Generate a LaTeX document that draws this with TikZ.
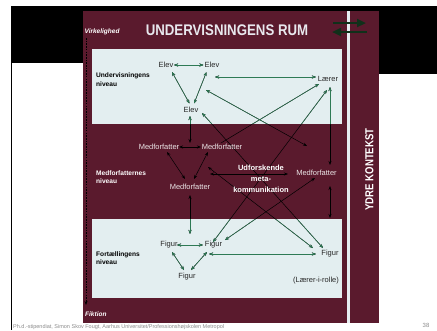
\documentclass[tikz,border=0pt]{standalone}
\usepackage{fontspec}
\usepackage{graphicx}
\setmainfont{Liberation Sans}
\newfontfamily\condfont[FakeStretch=0.86]{Liberation Sans}
\newfontfamily\condfontb[FakeStretch=0.83]{Liberation Sans}
\usetikzlibrary{arrows.meta}
\pgfdeclarelayer{bg}
\pgfdeclarelayer{lines}
\pgfsetlayers{bg,lines,main}
\definecolor{panelred}{HTML}{5A1A2D}
\definecolor{boxfill}{HTML}{E3EEF0}
\definecolor{stripecol}{HTML}{E6EDF1}
\definecolor{linegreen}{HTML}{2E7A55}
\definecolor{arrowgreen}{HTML}{10301A}
\definecolor{lighttext}{HTML}{ECE6E8}
\definecolor{titletext}{HTML}{E8E8EE}
\def\conncol{black}
\tikzset{
  lbl/.style={font=\fontsize{7.5}{9}\selectfont, inner sep=0pt},
  boxlbl/.style={lbl, text=black!85},
  midlbl/.style={lbl, text=lighttext},
  lvl/.style={font=\bfseries\fontsize{6.6}{8.6}\selectfont, align=left, anchor=west, inner sep=0pt},
  conn/.style={draw=\conncol, line width=0.5pt, >={Stealth[length=4pt,width=3pt]}, <->},
  connone/.style={draw=\conncol, line width=0.5pt, >={Stealth[length=4pt,width=3pt]}, ->},
  bigarrow/.style={draw=arrowgreen, line width=2.4pt, -{Triangle[length=9pt,width=8pt]}},
}
\newcommand{\drawconnectors}{%
  \draw[conn] (p1a) -- (p1b);
  \draw[conn] (p2a) -- (p2b);
  \draw[conn] (p3a) -- (p3b);
  \draw[conn] (p4a) -- (p4b);
  \draw[conn] (p5a) -- (p5b);
  \draw[conn] (p6a) -- (p6b);
  \draw[conn] (p7a) -- (p7b);
  \draw[conn] (p8a) -- (p8b);
  \draw[conn] (p9a) -- (p9b);
  \draw[conn] (p10a) -- (p10b);
  \draw[conn] (p11a) -- (p11b);
  \draw[conn] (p12a) -- (p12b);
  \draw[conn] (p13a) -- (p13b);
  \draw[conn] (p14a) -- (p14b);
  \draw[connone] (p15b) -- (p15a);
  \draw[conn] (p16a) -- (p16b);
  \draw[conn] (p17a) -- (p17b);
  \draw[conn] (p18a) -- (p18b);
  \draw[conn] (p19a) -- (p19b);
  \draw[conn] (p20a) -- (p20b);
  \draw[conn] (p21a) -- (p21b);
  \draw[conn] (p22a) -- (p22b);
}
\begin{document}
\begin{tikzpicture}[x=1pt,y=-1pt]
\useasboundingbox (0,0) rectangle (437,330);
% backgrounds
\begin{pgfonlayer}{bg}
\fill[white] (0,0) rectangle (437,330);
\fill[black] (11,6) rectangle (83,63);
\fill[black] (83,6) rectangle (437,74);
\fill[panelred] (83,11) rectangle (379,323);
\draw[black, line width=1.2pt] (11.6,60) -- (11.6,330);
\fill[stripecol] (347.3,11) rectangle (350,323);
\fill[boxfill] (92,49) rectangle (342,124);
\fill[boxfill] (92,219) rectangle (342,297.5);
\end{pgfonlayer}

% header
\node[font=\condfont\bfseries\fontsize{15.4}{16}\selectfont, text=titletext, inner sep=0pt] (title) at (227,30) {UNDERVISNINGENS RUM};
\node[font=\bfseries\itshape\fontsize{6.5}{7}\selectfont, text=white, anchor=west, inner sep=0pt] (virk) at (84.5,32) {Virkelighed};
\node[font=\bfseries\itshape\fontsize{6.5}{7}\selectfont, text=white, anchor=west, inner sep=0pt] (fikt) at (85,314) {Fiktion};
\node[font=\condfontb\bfseries\fontsize{11.6}{12}\selectfont, text=white, rotate=90, inner sep=0pt] (ydre) at (369.5,169.5) {YDRE KONTEKST};

\coordinate (ra) at (333,23); \coordinate (rb) at (366,23);
\coordinate (la) at (367,32); \coordinate (lb) at (332,32);
\draw[bigarrow] (ra) -- (rb);
\draw[bigarrow] (la) -- (lb);

% reality/fiction dashed line
\coordinate (dtop) at (86,38); \coordinate (dbot) at (86,305);
\draw[black, line width=0.7pt, dash pattern=on 1.6pt off 1.1pt, -{Stealth[length=4pt,width=3pt]}] (dtop) -- (dbot);

% level labels
\node[lvl, text=black] (lv1) at (96,79.5) {Undervisningens\\niveau};
\node[lvl, text=white] (lv2) at (96,177) {Medforfatternes\\niveau};
\node[lvl, text=black] (lv3) at (96,258) {Fortællingens\\niveau};

% nodes
\node[boxlbl] (elev1) at (166,65) {Elev};
\node[boxlbl] (elev2) at (212,65) {Elev};
\node[boxlbl] (laerer) at (328,78.5) {Lærer};
\node[boxlbl] (elev3) at (191,110) {Elev};
\node[midlbl] (medA) at (159,147) {Medforfatter};
\node[midlbl] (medB) at (222,147) {Medforfatter};
\node[midlbl] (medC) at (190,187) {Medforfatter};
\node[midlbl] (medD) at (316.5,173) {Medforfatter};
\node[font=\bfseries\fontsize{7.5}{11}\selectfont, text=white, align=center, inner sep=0pt] (meta) at (261,179) {Udforskende\\meta-\\kommunikation};
\node[boxlbl] (fig1) at (169,245) {Figur};
\node[boxlbl] (fig2) at (213.5,245) {Figur};
\node[boxlbl] (fig3) at (330,254) {Figur};
\node[boxlbl] (fig4) at (187,277) {Figur};
\node[boxlbl] (lir) at (316,281) {(Lærer-i-rolle)};

% connector end points
\coordinate (p1a) at (174,65);   \coordinate (p1b) at (203.5,65);
\coordinate (p2a) at (215,77);   \coordinate (p2b) at (316,77);
\coordinate (p3a) at (172,72);   \coordinate (p3b) at (189.5,103.5);
\coordinate (p4a) at (206.5,72); \coordinate (p4b) at (194,103.5);
\coordinate (p5a) at (190,116);  \coordinate (p5b) at (190,143);
\coordinate (p6a) at (179,147);  \coordinate (p6b) at (201,147);
\coordinate (p7a) at (167,152);  \coordinate (p7b) at (185,179);
\coordinate (p8a) at (208,152);  \coordinate (p8b) at (194,179);
\coordinate (p9a) at (190,195);  \coordinate (p9b) at (190,234);
\coordinate (p10a) at (210,174); \coordinate (p10b) at (288,174);
\coordinate (p11a) at (330,87);  \coordinate (p11b) at (330,165);
\coordinate (p12a) at (330,186); \coordinate (p12b) at (330,218);
\coordinate (p13a) at (206,90);  \coordinate (p13b) at (307,146);
\coordinate (p14a) at (202,113); \coordinate (p14b) at (323,248);
\coordinate (p15a) at (319,84);  \coordinate (p15b) at (221,143);
\coordinate (p16a) at (327,90);  \coordinate (p16b) at (213,242);
\coordinate (p17a) at (208,167); \coordinate (p17b) at (313,248);
\coordinate (p18a) at (315,178); \coordinate (p18b) at (225,240);
\coordinate (p19a) at (177,245); \coordinate (p19b) at (203,245);
\coordinate (p20a) at (209,254); \coordinate (p20b) at (316,254);
\coordinate (p21a) at (172,252); \coordinate (p21b) at (184,270);
\coordinate (p22a) at (207,252); \coordinate (p22b) at (191,270);

\begin{pgfonlayer}{lines}
\drawconnectors
\begin{scope}
  \clip (92,49) rectangle (342,124) (92,219) rectangle (342,297.5);
  \def\conncol{linegreen}
  \drawconnectors
\end{scope}
\end{pgfonlayer}

% footer
\node[font=\fontsize{5.5}{6}\selectfont, text=black!45, anchor=base west, inner sep=0pt] (foot) at (13,328.6) {Ph.d.-stipendiat, Simon Skov Fougt, Aarhus Universitet/Professionshøjskolen Metropol};
\node[font=\fontsize{6}{6}\selectfont, text=black!45, inner sep=0pt] (pnum) at (426,325.5) {38};
\end{tikzpicture}
\end{document}
